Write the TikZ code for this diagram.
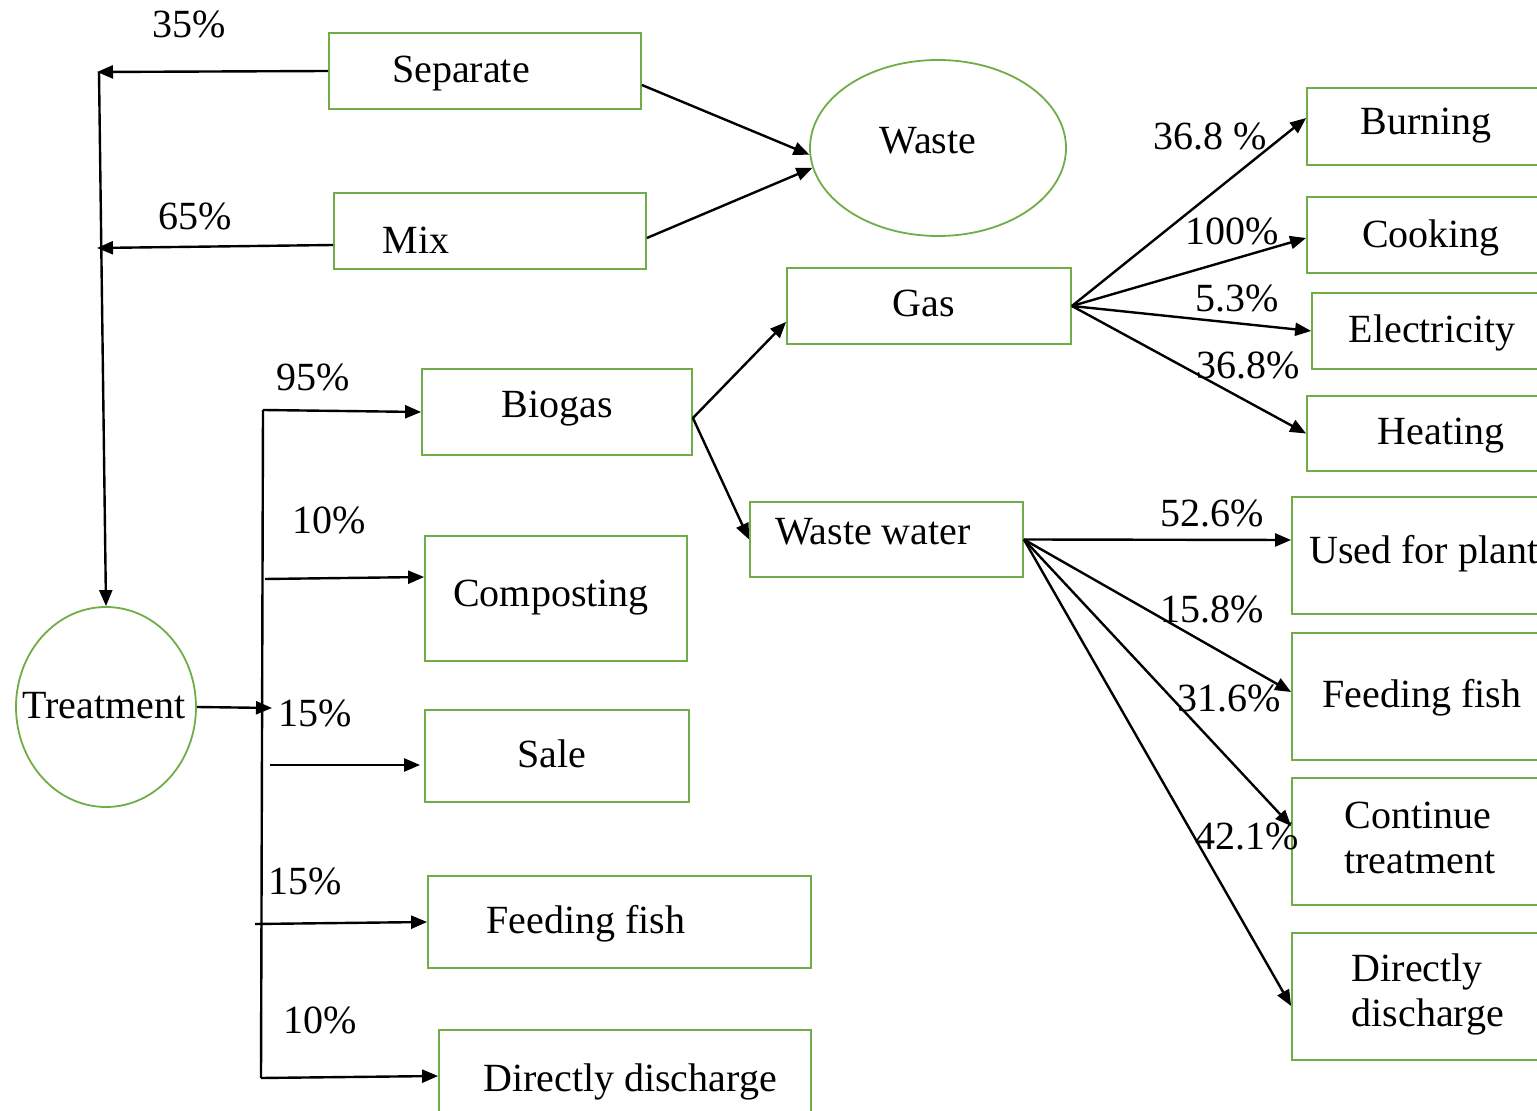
\documentclass[tikz,border=0pt]{standalone}
\usepackage{fontspec}
\setmainfont{Liberation Serif}
\usetikzlibrary{arrows.meta,shapes.geometric,fit}
\definecolor{boxgreen}{RGB}{112,173,71}
\begin{document}
\begin{tikzpicture}[x=0.5pt,y=-0.5pt,
  box/.style={draw=boxgreen,line width=0.9pt,rectangle,inner sep=0pt},
  oval/.style={draw=boxgreen,line width=0.9pt,ellipse,inner sep=0pt},
  lbl/.style={font=\fontsize{20}{22.5}\selectfont,inner sep=0pt},
  dsc/.style={lbl,yshift=-2pt},
  arr/.style={line width=1.2pt,-{Triangle[length=8pt,width=6.5pt]}},
  ln/.style={line width=1.2pt}]
\useasboundingbox (0,0) rectangle (1537,1111);
\clip (0,0) rectangle (1537,1111);

% ---- shapes ----
\node[box,fit={(329,33)(641,109)}] (sep) {};
\node[box,fit={(334,193)(646,269)}] (mix) {};
\node[oval,minimum width=128pt,minimum height=88pt] (waste) at (938,148) {};
\node[box,fit={(787,268)(1071,344)}] (gas) {};
\node[box,fit={(1307,88)(1560,165)}] (burn) {};
\node[box,fit={(1307,197)(1560,273)}] (cook) {};
\node[box,fit={(1312,293)(1560,369)}] (elec) {};
\node[box,fit={(1307,396)(1560,471)}] (heat) {};
\node[box,fit={(422,369)(692,455)}] (bio) {};
\node[box,fit={(750,502)(1023,577)}] (ww) {};
\node[box,fit={(425,536)(687,661)}] (comp) {};
\node[box,fit={(425,710)(689,802)}] (sale) {};
\node[box,fit={(428,876)(811,968)}] (fishL) {};
\node[box,fit={(439,1030)(811,1130)}] (dischL) {};
\node[oval,minimum width=90pt,minimum height=100pt] (treat) at (106,707) {};
\node[box,fit={(1292,497)(1560,614)}] (plant) {};
\node[box,fit={(1292,633)(1560,760)}] (fishR) {};
\node[box,fit={(1292,778)(1560,905)}] (cont) {};
\node[box,fit={(1292,933)(1560,1060)}] (dischR) {};

% ---- texts ----
\node[dsc] (tsep) at (461,70) {Separate};
\node[lbl] (tmix) at (416,240) {Mix};
\node[lbl] (twaste) at (928,141) {Waste};
\node[lbl] (tgas) at (924,303) {Gas};
\node[dsc] (tburn) at (1426,122) {Burning};
\node[dsc] (tcook) at (1431,234) {Cooking};
\node[dsc] (telec) at (1432,329) {Electricity};
\node[dsc] (theat) at (1441,432) {Heating};
\node[dsc] (tbio) at (557,405) {Biogas};
\node[lbl] (tww) at (873,532) {Waste water};
\node[dsc] (tcomp) at (551,594) {Composting};
\node[lbl] (tsale) at (552,754) {Sale};
\node[dsc] (tfishL) at (586,920) {Feeding fish};
\node[dsc] (tdischL) at (630,1078) {Directly discharge};
\node[lbl] (ttreat) at (104,706) {Treatment};
\node[dsc,anchor=west] (tplant) at (1309,550) {Used for plant};
\node[dsc] (tfishR) at (1422,694) {Feeding fish};
\node[lbl,align=left] (tcont) at (1420,838) {Continue\\treatment};
\node[lbl,align=left] (tdischR) at (1428,994) {Directly\\discharge};

% ---- percentages ----
\node[lbl] (p35) at (189,24) {35\%};
\node[lbl] (p65) at (195,216) {65\%};
\node[lbl] (p95) at (313,377) {95\%};
\node[lbl] (p10a) at (329,520) {10\%};
\node[lbl] (p15a) at (315,713) {15\%};
\node[lbl] (p15b) at (305,881) {15\%};
\node[lbl] (p10b) at (320,1020) {10\%};
\node[lbl] (g1) at (1210,136) {36.8 \%};
\node[lbl] (g2) at (1232,231) {100\%};
\node[lbl] (g3) at (1237,298) {5.3\%};
\node[lbl] (g4) at (1248,365) {36.8\%};
\node[lbl] (w1) at (1212,513) {52.6\%};
\node[lbl] (w2) at (1212,609) {15.8\%};
\node[lbl] (w3) at (1229,698) {31.6\%};
\node[lbl] (w4) at (1247,836) {42.1\%};

% ---- collecting lines ----
\coordinate (j35) at (97,72);
\coordinate (j65) at (97,248);
\coordinate (top) at (99,72);
\draw[arr] (sep.west) -- (j35);
\draw[arr] ([yshift=-7pt]mix.west) -- (j65);
\draw[arr] (top) -- (treat.north);
\draw[arr] ([yshift=-7pt]sep.east) -- (waste.183);
\draw[arr] ([yshift=-3.5pt]mix.east) -- (waste.189);

% ---- treatment branches ----
\coordinate (bus) at (272,708);
\coordinate (busTop) at (263,410);
\coordinate (busBot) at (261,1078);
\coordinate (b2) at (265,579);
\coordinate (b3) at (270,765);
\coordinate (b4) at (255,924);
\draw[arr] (treat.east) -- (bus);
\draw[ln] (busTop) -- (busBot);
\draw[arr] (busTop) -- (bio.west);
\draw[arr] (b2) -- ([yshift=10.75pt]comp.west);
\draw[arr] (b3) -- ([yshift=-4.5pt,xshift=-2pt]sale.west);
\draw[arr] (b4) -- (fishL.west);
\draw[arr] (busBot) -- ([yshift=2pt]dischL.west);

% ---- biogas ----
\draw[arr] ([yshift=-3pt]bio.east) -- ([yshift=-8pt]gas.west);
\draw[arr] ([yshift=-3pt]bio.east) -- (ww.west);

% ---- gas uses ----
\draw[arr] (gas.east) -- ([yshift=4.25pt]burn.west);
\draw[arr] (gas.east) -- ([yshift=-1.5pt]cook.west);
\draw[arr] (gas.east) -- (elec.west);
\draw[arr] (gas.east) -- (heat.west);

% ---- waste water uses ----
\draw[arr] (ww.east) -- ([yshift=7.75pt]plant.west);
\draw[arr] (ww.east) -- ([yshift=2.25pt]fishR.west);
\draw[arr] (ww.east) -- ([yshift=7.75pt]cont.west);
\draw[arr] (ww.east) -- ([yshift=-4.75pt]dischR.west);
\end{tikzpicture}
\end{document}
